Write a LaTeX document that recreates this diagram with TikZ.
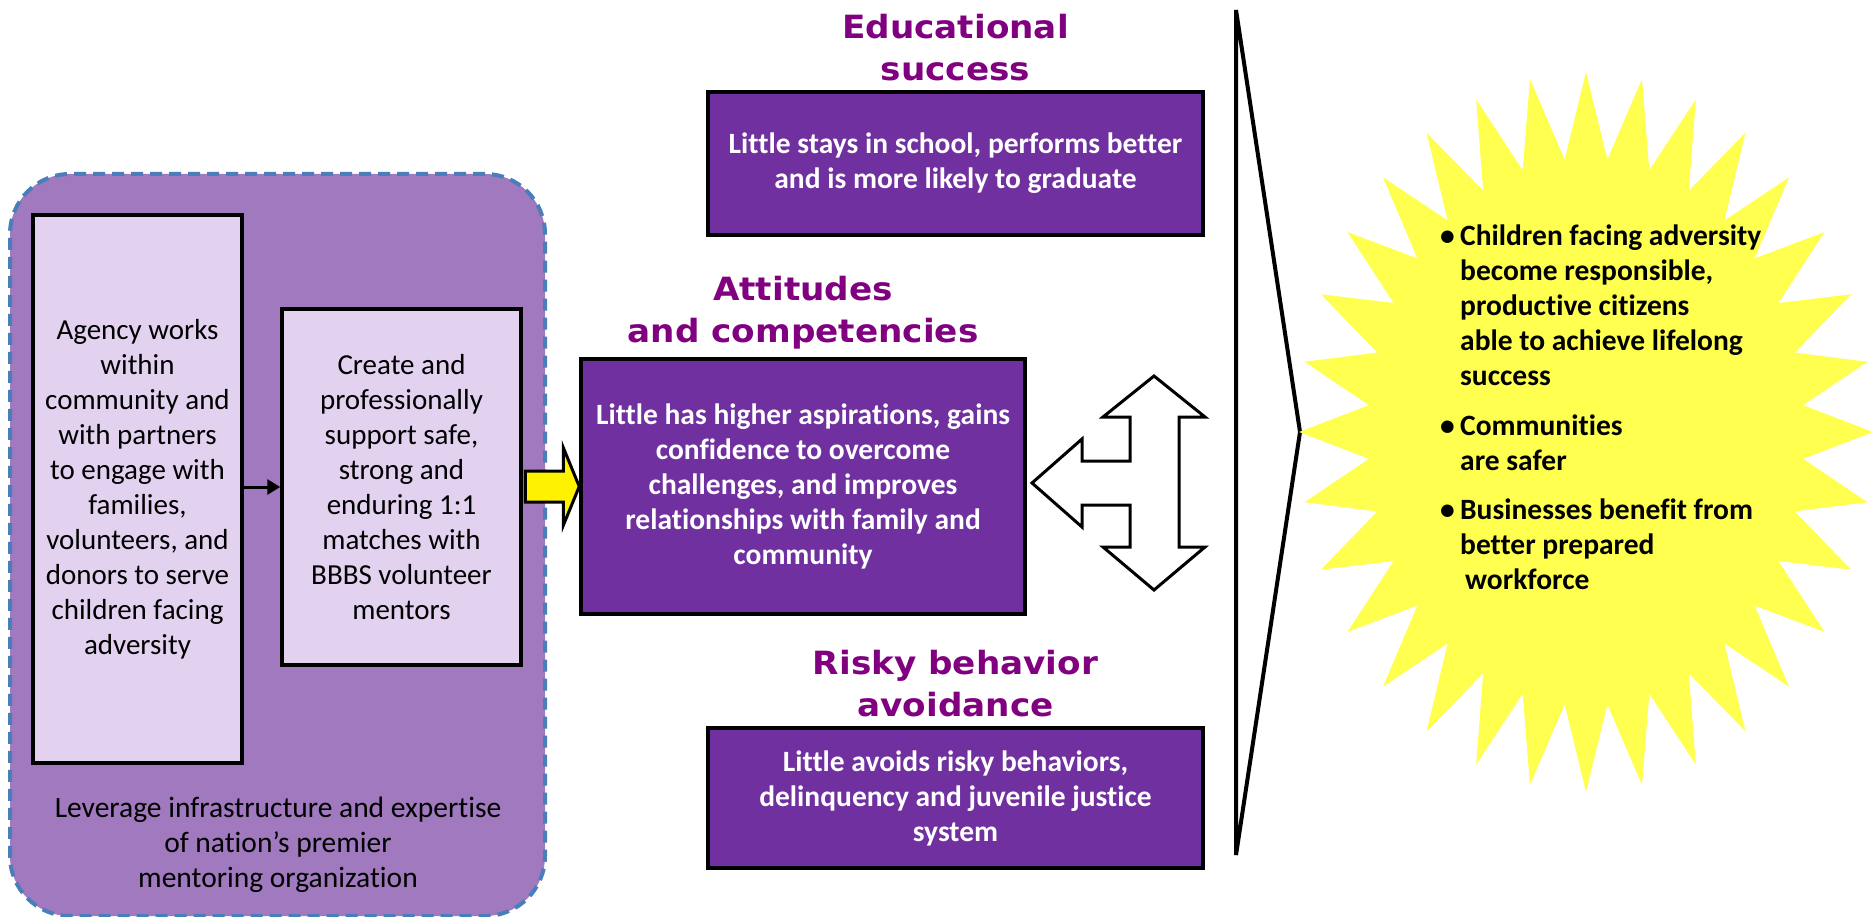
\documentclass[tikz,border=0pt]{standalone}
\usepackage{fontspec}
\setmainfont{Carlito}[Ligatures=NoCommon]
\newfontfamily\headfont[FakeStretch=1.07]{DejaVu Sans}
\usepackage{tikz}
\usetikzlibrary{arrows.meta, calc}

\definecolor{frameblue}{RGB}{74,126,187}
\definecolor{outerlilac}{RGB}{160,121,190}
\definecolor{innerlilac}{RGB}{226,210,240}
\definecolor{boxpurple}{RGB}{112,48,160}
\definecolor{headpurple}{RGB}{128,0,128}
\definecolor{sunyellow}{RGB}{255,255,80}

\begin{document}
\begin{tikzpicture}[x=1pt, y=-1pt,
    stepbox/.style={draw=black, line width=3.5pt, fill=innerlilac, align=center,
        inner sep=0pt, font=\fontsize{29}{35}\selectfont},
    outcome/.style={draw=black, line width=3.5pt, fill=boxpurple, text=white, align=center,
        inner sep=0pt, font=\fontsize{29.5}{35}\selectfont\bfseries},
    heading/.style={text=headpurple, align=center, inner sep=0pt,
        font=\headfont\fontsize{32}{42}\selectfont\bfseries},
    blockarrow/.style={draw=black, line width=3pt, line join=miter}]
\useasboundingbox (0,0) rectangle (1871,917);

% Program side
\node[draw=frameblue, line width=4pt, dash pattern=on 12pt off 7pt, fill=outerlilac,
    rounded corners=60pt, minimum width=535pt, minimum height=742pt, inner sep=0pt]
    (program) at (277.5,545) {};
\node[stepbox, minimum width=209pt, minimum height=548pt] (agency) at (137.5,489)
    {Agency works\\within\\community and\\with partners\\to engage with\\families,\\volunteers, and\\donors to serve\\children facing\\adversity};
\node[stepbox, minimum width=239pt, minimum height=356pt] (match) at (401.5,487)
    {Create and\\professionally\\support safe,\\strong and\\enduring 1:1\\matches with\\BBBS volunteer\\mentors};
\node[align=center, inner sep=0pt, font=\fontsize{29.5}{35}\selectfont] (leverage) at (278,845)
    {Leverage infrastructure and expertise\\of nation’s premier\\mentoring organization};
\draw[-{Triangle[length=13pt,width=15pt]}, line width=3pt] (agency.east |- match.west) -- (match.west);

% Outcomes
\node[outcome, minimum width=495pt, minimum height=143pt] (edu) at (955.5,163.5)
    {Little stays in school, performs better\\and is more likely to graduate};
\node[outcome, minimum width=444pt, minimum height=255pt] (att) at (803,486.5)
    {Little has higher aspirations, gains\\confidence to overcome\\challenges, and improves\\relationships with family and\\community};
\node[outcome, minimum width=495pt, minimum height=140pt] (risk) at (955.5,798)
    {Little avoids risky behaviors,\\delinquency and juvenile justice\\system};
\node[heading, anchor=north] (eduhead) at (955.5,14) {Educational\\success};
\node[heading, anchor=north] (atthead) at (803,276) {Attitudes\\and competencies};
\node[heading, anchor=north] (riskhead) at (955.5,650) {Risky behavior\\avoidance};

% yellow arrow into the middle box
\draw[blockarrow, fill=yellow] ($(att.west)+(-54,-15.5)$) -- ++(38,0) -- ++(0,-23.5) -- (att.west)
    -- ($(att.west)+(-16,39)$) -- ++(0,-23.5) -- ++(-38,0) -- cycle;

% three way arrow
\coordinate (hub) at (1154,483);
\draw[blockarrow, fill=white, shift={(hub)}] (-122,0) -- (-72,-44) -- (-72,-22) -- (-24,-22)
    -- (-24,-66) -- (-51,-66) -- (0,-107) -- (51,-66) -- (25,-66) -- (25,64) -- (51,64)
    -- (0,107) -- (-51,64) -- (-24,64) -- (-24,22) -- (-72,22) -- (-72,44) -- cycle;

% Impact
\coordinate (ctop) at (1236,10);
\coordinate (ctip) at (1300,432);
\coordinate (cbot) at (1236,855);
\draw[line width=4pt] (ctop) -- (ctip) -- (cbot) -- cycle;
\coordinate (sun) at (1586,432);
\fill[sunyellow, shift={(sun)}] (287,0)
    \foreach \i [evaluate=\i as \r using 0.88+0.12*cos(180*\i)] in {1,...,63} {
        -- ({287*\r*cos(5.625*\i)},{360*\r*sin(5.625*\i)})
    } -- cycle;
\node[anchor=base west, inner sep=0pt, font=\fontsize{29.5}{35}\selectfont\bfseries] (goals) at (1440,246)
    {\begin{tabular}[t]{@{}p{20pt}@{}l@{}}
    \textbullet & Children facing adversity\\
    & become responsible,\\
    & productive citizens\\
    & able to achieve lifelong\\
    & success\\[15pt]
    \textbullet & Communities\\
    & are safer\\[14pt]
    \textbullet & Businesses benefit from\\
    & better prepared\\
    & \hspace{5pt}workforce
    \end{tabular}};
\end{tikzpicture}
\end{document}
